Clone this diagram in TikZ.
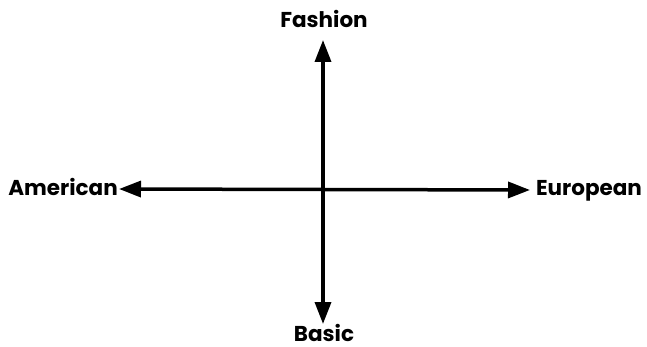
\documentclass[tikz,border=0pt]{standalone}
\usepackage{fontspec}
\setmainfont{Poppins}
\usetikzlibrary{arrows.meta}
\begin{document}
\begin{tikzpicture}[x=1pt,y=-1pt,
  lbl/.style={font=\bfseries\fontsize{21.5}{24}\selectfont, inner sep=0pt, text=black, anchor=base},
  axis/.style={line width=3.5pt, {Triangle[length=22pt,width=16pt]}-{Triangle[length=22pt,width=16pt]}}]
\useasboundingbox (0,0) rectangle (647,347);
\node[lbl] (fashion) at (324,28) {Fashion};
\node[lbl] (basic) at (324,341) {Basic};
\node[lbl] (american) at (63,196) {American};
\node[lbl] (european) at (589,196) {European};
\coordinate (ntip) at (323,40);
\coordinate (stip) at (323,324);
\coordinate (wtip) at (119,189);
\coordinate (etip) at (530,190);
\draw[axis] (ntip) -- (stip);
\draw[axis] (wtip) -- (etip);
\end{tikzpicture}
\end{document}
